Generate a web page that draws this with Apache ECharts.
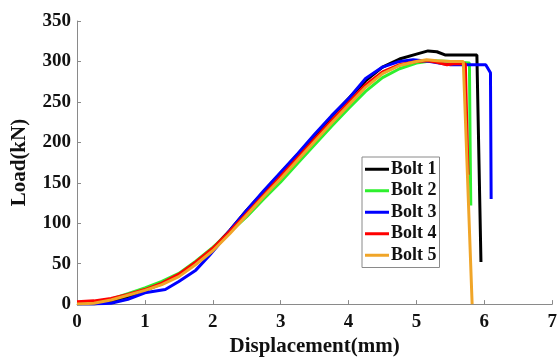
<!DOCTYPE html>
<html>
<head>
<meta charset="utf-8">
<script src="https://cdn.jsdelivr.net/npm/echarts@6/dist/echarts.min.js"></script>
<style>html,body{margin:0;padding:0;background:#fff}#c{width:560px;height:362px}</style>
</head>
<body>
<div id="c"></div>
<script>
var seriesNames = ['Bolt 1', 'Bolt 2', 'Bolt 3', 'Bolt 4', 'Bolt 5'];
var xTicks = [0, 1, 2, 3, 4, 5, 6, 7];
var yTicks = [0, 50, 100, 150, 200, 250, 300, 350];

var bolt1X = [0, 0.25, 0.5, 0.75, 1, 1.25, 1.5, 1.75, 2, 2.25, 2.5, 2.75, 3, 3.25, 3.5, 3.75, 4, 4.25, 4.5, 4.75, 5, 5.17, 5.3, 5.42, 5.5, 5.89, 5.95];
var bolt1Y = [0, 0, 3, 9, 17, 25, 36, 51, 69, 91, 116, 139, 162, 185, 208, 232, 254, 276, 293, 303, 309, 313, 312, 308, 308, 308, 52];

var bolt2X = [0, 0.25, 0.5, 0.75, 1, 1.25, 1.5, 1.75, 2, 2.25, 2.5, 2.75, 3, 3.25, 3.5, 3.75, 4, 4.25, 4.5, 4.75, 5, 5.25, 5.5, 5.78, 5.79, 5.8];
var bolt2Y = [0, 2, 6, 13, 20, 28, 38, 53, 70, 89, 108, 130, 151, 174, 197, 220, 242, 263, 280, 291, 298, 301, 300, 298, 200, 122];

var bolt3X = [0, 0.25, 0.5, 0.75, 1, 1.3, 1.5, 1.75, 1.95, 2.05, 2.25, 2.5, 2.75, 3, 3.25, 3.5, 3.75, 4, 4.25, 4.5, 4.75, 4.95, 5.2, 5.4, 5.5, 6.02, 6.09, 6.1];
var bolt3Y = [0, 0, 1, 6, 14, 18, 28, 42, 60, 70, 91, 116, 140, 163, 186, 210, 233, 254, 279, 293, 300, 302, 300, 297, 296, 296, 286, 130];

var bolt4X = [0, 0.25, 0.5, 0.75, 1, 1.25, 1.5, 1.75, 2, 2.25, 2.5, 2.75, 3, 3.25, 3.5, 3.75, 4, 4.25, 4.5, 4.75, 5, 5.15, 5.3, 5.45, 5.55, 5.72, 5.73, 5.76];
var bolt4Y = [3, 4, 7, 12, 18, 26, 37, 52, 69, 90, 112, 135, 158, 181, 204, 227, 249, 271, 287, 296, 300, 301, 299, 296, 297, 297, 260, 160];

var bolt5X = [0, 0.25, 0.5, 0.75, 1, 1.25, 1.5, 1.75, 2, 2.25, 2.5, 2.75, 3, 3.25, 3.5, 3.75, 4, 4.25, 4.5, 4.75, 5, 5.15, 5.3, 5.5, 5.69, 5.82];
var bolt5Y = [0, 1, 5, 11, 17, 24, 34, 49, 66, 87, 110, 133, 155, 178, 201, 224, 246, 268, 285, 295, 300, 302, 301, 300, 300, 0];

var colors = ['#000000', '#2ef02e', '#0000ff', '#ff0000', '#f0a528'];
var xs = [bolt1X, bolt2X, bolt3X, bolt4X, bolt5X];
var ys = [bolt1Y, bolt2Y, bolt3Y, bolt4Y, bolt5Y];

function pairs(x, y) { return x.map(function (v, i) { return [v, y[i]]; }); }

var FONT = '"Liberation Serif", "Times New Roman", serif';
var chart = echarts.init(document.getElementById('c'), null, { renderer: 'canvas' });
chart.setOption({
  animation: false,
  backgroundColor: '#ffffff',
  color: colors,
  grid: { left: 77, right: 5, top: 21, bottom: 51, containLabel: false },
  xAxis: {
    type: 'value', min: xTicks[0], max: xTicks[xTicks.length - 1], interval: 1,
    name: 'Displacement(mm)', nameLocation: 'middle', nameGap: 29,
    nameTextStyle: { fontFamily: FONT, fontWeight: 'bold', fontSize: 21, color: '#111' },
    axisLine: { show: true, lineStyle: { color: '#8a8a8a', width: 1 } },
    axisTick: { show: true, inside: true, length: 4, lineStyle: { color: '#8a8a8a' } },
    axisLabel: { fontFamily: FONT, fontWeight: 'bold', fontSize: 19, color: '#111', margin: 8 },
    splitLine: { show: false }
  },
  yAxis: {
    type: 'value', min: yTicks[0], max: yTicks[yTicks.length - 1], interval: 50,
    name: 'Load(kN)', nameLocation: 'middle', nameGap: 47,
    nameTextStyle: { fontFamily: FONT, fontWeight: 'bold', fontSize: 21, color: '#111' },
    axisLine: { show: true, lineStyle: { color: '#8a8a8a', width: 1 } },
    axisTick: { show: true, inside: true, length: 4, lineStyle: { color: '#8a8a8a' } },
    axisLabel: { fontFamily: FONT, fontWeight: 'bold', fontSize: 19, color: '#111', margin: 6 },
    splitLine: { show: false }
  },
  legend: {
    orient: 'vertical', left: 362, top: 157,
    data: seriesNames,
    icon: 'rect', itemWidth: 24, itemHeight: 3, itemGap: 3,
    padding: [3, 3, 3, 3],
    borderColor: '#8a8a8a', borderWidth: 1, backgroundColor: '#ffffff',
    textStyle: { fontFamily: FONT, fontWeight: 'bold', fontSize: 18, color: '#111', lineHeight: 18.5, padding: [0, 0, 0, -3] }
  },
  series: seriesNames.map(function (n, i) {
    return {
      name: n, type: 'line', data: pairs(xs[i], ys[i]),
      showSymbol: false, symbol: 'none', smooth: false,
      lineStyle: { width: 3, color: colors[i] },
      itemStyle: { color: colors[i] }
    };
  })
});
</script>
</body>
</html>
